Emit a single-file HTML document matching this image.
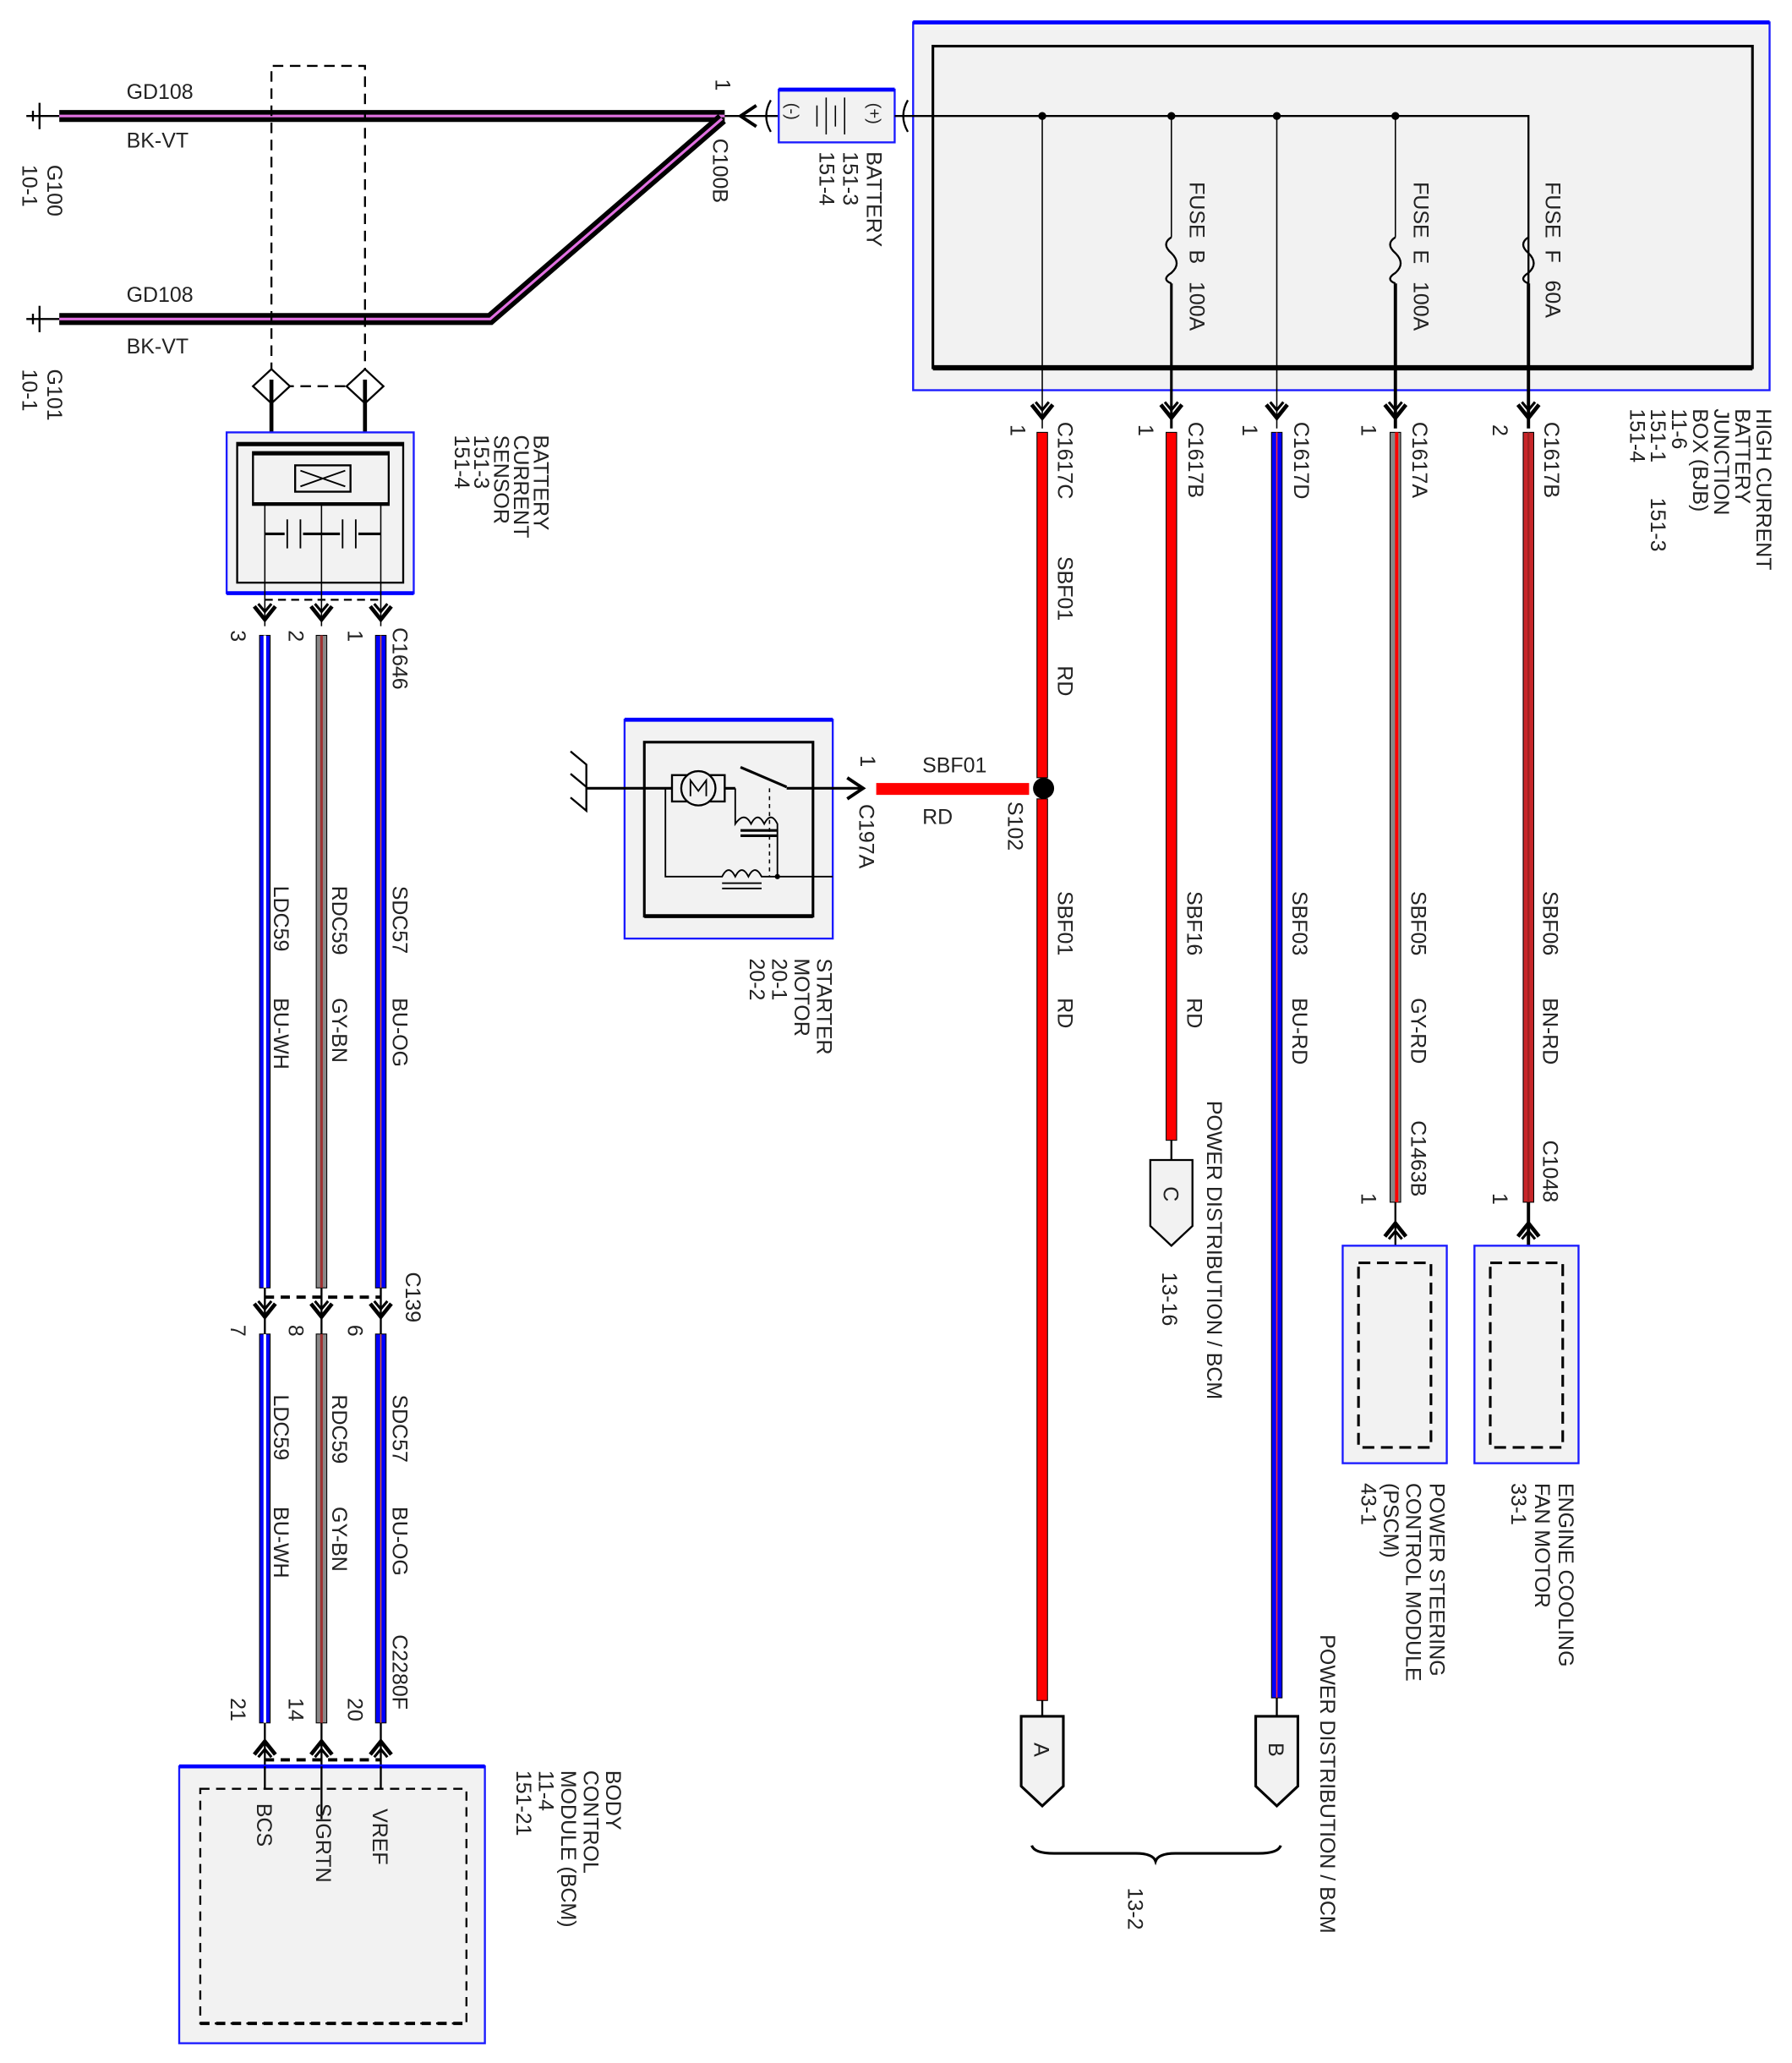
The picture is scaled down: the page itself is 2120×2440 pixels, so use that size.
<!DOCTYPE html>
<html><head><meta charset="utf-8"><style>
html,body{margin:0;padding:0;background:#fff;}
svg{display:block}
text{font-family:"Liberation Sans",sans-serif;font-size:16px;fill:#222;white-space:pre;}
</style></head><body>
<svg width="2120" height="2440" viewBox="0 0 1360 1565" preserveAspectRatio="none" xmlns="http://www.w3.org/2000/svg" xml:space="preserve">
<defs>
<g id="dn"><path d="M-8,-8 L0,2 L8,-8" fill="none" stroke="#000" stroke-width="3"/><path d="M-5,-10 L0,-4 L5,-10" fill="none" stroke="#000" stroke-width="2"/></g>
<g id="up"><path d="M-8,8 L0,-2 L8,8" fill="none" stroke="#000" stroke-width="3"/><path d="M-5,10 L0,4 L5,10" fill="none" stroke="#000" stroke-width="2"/></g>
</defs>

<g>
<line x1="20" y1="88" x2="45" y2="88" stroke="#000" stroke-width="1.5"/>
<line x1="30" y1="78" x2="30" y2="98" stroke="#000" stroke-width="1.5"/>
<line x1="25" y1="84" x2="25" y2="92" stroke="#000" stroke-width="1.5"/>
<line x1="20" y1="242" x2="45" y2="242" stroke="#000" stroke-width="1.5"/>
<line x1="30" y1="232" x2="30" y2="252" stroke="#000" stroke-width="1.5"/>
<line x1="25" y1="238" x2="25" y2="246" stroke="#000" stroke-width="1.5"/>
<path d="M45,88 L550,88" stroke="#000" stroke-width="9" fill="none"/>
<path d="M45,88 L550,88" stroke="#e070e0" stroke-width="2" fill="none"/>
<path d="M548,90 L372,242 L45,242" stroke="#000" stroke-width="9" fill="none" stroke-linejoin="miter"/>
<path d="M548,90 L372,242 L45,242" stroke="#e070e0" stroke-width="2" fill="none"/>
<text x="96" y="75">GD108</text><text x="96" y="112">BK-VT</text>
<text x="96" y="229">GD108</text><text x="96" y="268">BK-VT</text>
<text transform="translate(36,125) rotate(90)">G100</text>
<text transform="translate(17,125) rotate(90)">10-1</text>
<text transform="translate(36,280) rotate(90)">G101</text>
<text transform="translate(17,280) rotate(90)">10-1</text>
</g>

<path d="M206,283 L206,50 L277,50 L277,283" fill="none" stroke="#000" stroke-width="1.5" stroke-dasharray="8,5"/>
<line x1="215" y1="293" x2="268" y2="293" stroke="#000" stroke-width="1.5" stroke-dasharray="8,5"/>
<path d="M206,280 L220,293 L206,306 L192,293 Z" fill="#fff" stroke="#000" stroke-width="1.5"/>
<path d="M277,280 L291,293 L277,306 L263,293 Z" fill="#fff" stroke="#000" stroke-width="1.5"/>
<line x1="206" y1="288" x2="206" y2="330" stroke="#000" stroke-width="3"/>
<line x1="277" y1="288" x2="277" y2="330" stroke="#000" stroke-width="3"/>

<text transform="translate(543,60) rotate(90)">1</text>
<text transform="translate(541,105) rotate(90)">C100B</text>
<path d="M574,80 L562,88 L574,96" fill="none" stroke="#000" stroke-width="2.5"/>
<line x1="550" y1="88" x2="591" y2="88" stroke="#000" stroke-width="1.5"/>
<path d="M585,76 Q578,88 585,100" fill="none" stroke="#000" stroke-width="1.5"/>
<path d="M689,76 Q682,88 689,100" fill="none" stroke="#000" stroke-width="1.5"/>
<rect x="591" y="68" width="88" height="40" fill="#f2f2f2" stroke="#1a1aff" stroke-width="1.5"/>
<line x1="591" y1="68" x2="679" y2="68" stroke="#0000ff" stroke-width="3"/>
<line x1="620" y1="80" x2="620" y2="96" stroke="#000" stroke-width="1"/>
<line x1="627" y1="74" x2="627" y2="102" stroke="#000" stroke-width="1"/>
<line x1="634" y1="80" x2="634" y2="96" stroke="#000" stroke-width="1"/>
<line x1="641" y1="74" x2="641" y2="102" stroke="#000" stroke-width="1"/>
<text transform="translate(597,78) rotate(90)" style="font-size:13px">(-)</text>
<text transform="translate(659,78) rotate(90)" style="font-size:13px">(+)</text>
<text transform="translate(658,115) rotate(90)">BATTERY</text>
<text transform="translate(640,115) rotate(90)">151-3</text>
<text transform="translate(622,115) rotate(90)">151-4</text>

<rect x="693" y="17" width="650" height="279" fill="#f2f2f2" stroke="#1a1aff" stroke-width="1.5"/>
<line x1="693" y1="17" x2="1343" y2="17" stroke="#0000ff" stroke-width="3"/>
<rect x="708" y="35" width="622" height="244" fill="none" stroke="#000" stroke-width="2"/>
<line x1="708" y1="279" x2="1330" y2="279" stroke="#000" stroke-width="4"/>
<path d="M679,88 L1160,88 L1160,305" fill="none" stroke="#000" stroke-width="1.5"/>
<g stroke="#000" fill="none">
<line x1="791" y1="88" x2="791" y2="325" stroke-width="1"/>
<line x1="889" y1="88" x2="889" y2="180" stroke-width="1"/>
<path d="M889,180 Q881,185 889,192 Q897,200 889,207 Q881,212 889,215" stroke-width="1.5"/>
<line x1="889" y1="215" x2="889" y2="325" stroke-width="2"/>
<line x1="969" y1="88" x2="969" y2="325" stroke-width="1"/>
<line x1="1059" y1="88" x2="1059" y2="180" stroke-width="1"/>
<path d="M1059,180 Q1051,185 1059,192 Q1067,200 1059,207 Q1051,212 1059,215" stroke-width="1.5"/>
<line x1="1059" y1="215" x2="1059" y2="325" stroke-width="2.5"/>
<path d="M1160,180 Q1152,185 1160,192 Q1168,200 1160,207 Q1152,212 1160,215" stroke-width="1.5"/>
<line x1="1160" y1="215" x2="1160" y2="325" stroke-width="2.5"/>
</g>
<g fill="#000"><circle cx="791" cy="88" r="3"/><circle cx="889" cy="88" r="3"/><circle cx="969" cy="88" r="3"/><circle cx="1059" cy="88" r="3"/></g>
<text transform="translate(903,138) rotate(90)">FUSE  B   100A</text>
<text transform="translate(1073,138) rotate(90)">FUSE  E   100A</text>
<text transform="translate(1173,138) rotate(90)">FUSE  F   60A</text>
<text transform="translate(1333,310) rotate(90)">HIGH CURRENT</text>
<text transform="translate(1317,310) rotate(90)">BATTERY</text>
<text transform="translate(1301,310) rotate(90)">JUNCTION</text>
<text transform="translate(1285,310) rotate(90)">BOX (BJB)</text>
<text transform="translate(1269,310) rotate(90)">11-6</text>
<text transform="translate(1253,310) rotate(90)">151-1      151-3</text>
<text transform="translate(1237,310) rotate(90)">151-4</text>

<use href="#dn" x="791" y="315"/><use href="#dn" x="889" y="315"/><use href="#dn" x="969" y="315"/><use href="#dn" x="1059" y="315"/><use href="#dn" x="1160" y="315"/>

<rect x="787" y="328" width="8" height="262" fill="#ff0000" stroke="#000" stroke-width="0.7"/>
<rect x="787" y="606" width="8" height="684" fill="#ff0000" stroke="#000" stroke-width="0.7"/>
<rect x="885" y="328" width="8" height="537" fill="#ff0000" stroke="#000" stroke-width="0.7"/>
<rect x="965" y="328" width="8" height="960" fill="#0000ff" stroke="#000" stroke-width="0.7"/>
<line x1="969" y1="328" x2="969" y2="1288" stroke="#ff3030" stroke-width="1"/>
<rect x="1055" y="328" width="8" height="584" fill="#888" stroke="#000" stroke-width="0.7"/>
<line x1="1060" y1="328" x2="1060" y2="912" stroke="#ff0000" stroke-width="2.5"/>
<rect x="1156" y="328" width="8" height="584" fill="#c8262a" stroke="#000" stroke-width="0.7"/>
<line x1="1160" y1="328" x2="1160" y2="912" stroke="#a02020" stroke-width="1.5"/>

<text transform="translate(803,320) rotate(90)">C1617C</text><text transform="translate(767,322) rotate(90)">1</text>
<text transform="translate(902,320) rotate(90)">C1617B</text><text transform="translate(864,322) rotate(90)">1</text>
<text transform="translate(982,320) rotate(90)">C1617D</text><text transform="translate(943,322) rotate(90)">1</text>
<text transform="translate(1072,320) rotate(90)">C1617A</text><text transform="translate(1033,322) rotate(90)">1</text>
<text transform="translate(1172,320) rotate(90)">C1617B</text><text transform="translate(1133,322) rotate(90)">2</text>
<text transform="translate(803,422) rotate(90)">SBF01</text><text transform="translate(803,505) rotate(90)">RD</text>
<text transform="translate(803,676) rotate(90)">SBF01</text><text transform="translate(803,757) rotate(90)">RD</text>
<text transform="translate(901,676) rotate(90)">SBF16</text><text transform="translate(901,757) rotate(90)">RD</text>
<text transform="translate(981,676) rotate(90)">SBF03</text><text transform="translate(981,757) rotate(90)">BU-RD</text>
<text transform="translate(1071,676) rotate(90)">SBF05</text><text transform="translate(1071,757) rotate(90)">GY-RD</text>
<text transform="translate(1171,676) rotate(90)">SBF06</text><text transform="translate(1171,757) rotate(90)">BN-RD</text>

<line x1="889" y1="865" x2="889" y2="880" stroke="#000" stroke-width="1.5"/>
<path d="M873,880 L905,880 L905,930 L889,945 L873,930 Z" fill="#f2f2f2" stroke="#000" stroke-width="1.5"/>
<text transform="translate(883,900) rotate(90)">C</text>
<text transform="translate(916,835) rotate(90)">POWER DISTRIBUTION / BCM</text>
<text transform="translate(882,965) rotate(90)">13-16</text>

<text transform="translate(1071,850) rotate(90)">C1463B</text><text transform="translate(1033,905) rotate(90)">1</text>
<text transform="translate(1171,865) rotate(90)">C1048</text><text transform="translate(1133,905) rotate(90)">1</text>
<line x1="1059" y1="912" x2="1059" y2="958" stroke="#000" stroke-width="1.5"/>
<line x1="1160" y1="912" x2="1160" y2="958" stroke="#000" stroke-width="2.5"/>
<use href="#up" x="1059" y="930"/><use href="#up" x="1160" y="930"/>
<rect x="1019" y="945" width="79" height="165" fill="#f2f2f2" stroke="#1a1aff" stroke-width="1.5"/>
<rect x="1031" y="958" width="55" height="140" fill="none" stroke="#000" stroke-width="2" stroke-dasharray="9,5"/>
<rect x="1119" y="945" width="79" height="165" fill="#f2f2f2" stroke="#1a1aff" stroke-width="1.5"/>
<rect x="1131" y="958" width="55" height="140" fill="none" stroke="#000" stroke-width="2" stroke-dasharray="9,5"/>
<text transform="translate(1085,1125) rotate(90)">POWER STEERING</text>
<text transform="translate(1067,1125) rotate(90)">CONTROL MODULE</text>
<text transform="translate(1050,1125) rotate(90)">(PSCM)</text>
<text transform="translate(1033,1125) rotate(90)">43-1</text>
<text transform="translate(1183,1125) rotate(90)">ENGINE COOLING</text>
<text transform="translate(1165,1125) rotate(90)">FAN MOTOR</text>
<text transform="translate(1147,1125) rotate(90)">33-1</text>

<line x1="791" y1="1290" x2="791" y2="1302" stroke="#000" stroke-width="1.5"/>
<line x1="969" y1="1288" x2="969" y2="1302" stroke="#000" stroke-width="1.5"/>
<path d="M775,1302 L807,1302 L807,1355 L791,1370 L775,1355 Z" fill="#f2f2f2" stroke="#000" stroke-width="2"/>
<path d="M953,1302 L985,1302 L985,1355 L969,1370 L953,1355 Z" fill="#f2f2f2" stroke="#000" stroke-width="2"/>
<text transform="translate(785,1322) rotate(90)">A</text>
<text transform="translate(963,1322) rotate(90)">B</text>
<path d="M783,1400 Q785,1406 800,1406 L862,1406 Q875,1406 877,1412 Q879,1406 892,1406 L955,1406 Q970,1406 972,1400" fill="none" stroke="#000" stroke-width="2"/>
<text transform="translate(856,1432) rotate(90)">13-2</text>
<text transform="translate(1002,1240) rotate(90)">POWER DISTRIBUTION / BCM</text>

<path d="M433,570 L445,580 L445,615 L433,605" fill="none" stroke="#000" stroke-width="1.5"/>
<path d="M433,587 L445,597" stroke="#000" stroke-width="1.5"/>
<rect x="474" y="546" width="158" height="166" fill="#f2f2f2" stroke="#1a1aff" stroke-width="1.5"/>
<line x1="474" y1="546" x2="632" y2="546" stroke="#0000ff" stroke-width="3"/>
<rect x="489" y="563" width="128" height="132" fill="none" stroke="#000" stroke-width="2"/>
<line x1="489" y1="695" x2="617" y2="695" stroke="#000" stroke-width="3"/>
<line x1="445" y1="598" x2="510" y2="598" stroke="#000" stroke-width="2"/>
<rect x="510" y="588" width="40" height="20" fill="none" stroke="#000" stroke-width="1.5"/>
<circle cx="530" cy="598" r="13" fill="#f2f2f2" stroke="#000" stroke-width="1.5"/>
<path d="M524,604 L524,592 L530,600 L536,592 L536,604" fill="none" stroke="#000" stroke-width="1.2"/>
<line x1="550" y1="598" x2="558" y2="598" stroke="#000" stroke-width="2"/>
<path d="M562,582 L597,597" stroke="#000" stroke-width="2"/>
<line x1="597" y1="598" x2="655" y2="598" stroke="#000" stroke-width="2"/>
<line x1="584" y1="598" x2="584" y2="665" stroke="#000" stroke-width="1" stroke-dasharray="3,3"/>
<path d="M558,598 L558,625 Q565,615 570,625 Q575,615 580,625 Q585,615 590,625 L590,665" fill="none" stroke="#000" stroke-width="1.2"/>
<line x1="562" y1="630" x2="590" y2="630" stroke="#000" stroke-width="2"/>
<line x1="562" y1="634" x2="590" y2="634" stroke="#000" stroke-width="2"/>
<path d="M505,598 L505,665 L548,665 Q553,655 558,665 Q563,655 568,665 Q573,655 578,665 L632,665" fill="none" stroke="#000" stroke-width="1.2"/>
<line x1="548" y1="670" x2="578" y2="670" stroke="#000" stroke-width="1.2"/>
<line x1="548" y1="674" x2="578" y2="674" stroke="#000" stroke-width="1.2"/>
<circle cx="590" cy="665" r="2" fill="#000"/>
<path d="M643,590 L655,598 L643,606" fill="none" stroke="#000" stroke-width="2.5"/>
<rect x="665" y="594" width="116" height="9" fill="#ff0000"/>
<circle cx="792" cy="598" r="8" fill="#000"/>
<text x="700" y="586">SBF01</text><text x="700" y="625">RD</text>
<text transform="translate(653,573) rotate(90)">1</text>
<text transform="translate(652,610) rotate(90)">C197A</text>
<text transform="translate(765,608) rotate(90)">S102</text>
<text transform="translate(620,727) rotate(90)">STARTER</text>
<text transform="translate(603,727) rotate(90)">MOTOR</text>
<text transform="translate(586,727) rotate(90)">20-1</text>
<text transform="translate(569,727) rotate(90)">20-2</text>

<rect x="172" y="328" width="142" height="122" fill="#f2f2f2" stroke="#1a1aff" stroke-width="1.5"/>
<line x1="172" y1="450" x2="314" y2="450" stroke="#0000ff" stroke-width="3"/>
<rect x="180" y="336" width="126" height="106" fill="none" stroke="#000" stroke-width="1.5"/>
<line x1="180" y1="337" x2="306" y2="337" stroke="#000" stroke-width="3"/>
<rect x="192" y="343" width="103" height="40" fill="none" stroke="#000" stroke-width="1.5"/>
<line x1="192" y1="344" x2="295" y2="344" stroke="#000" stroke-width="3"/>
<line x1="192" y1="382" x2="295" y2="382" stroke="#000" stroke-width="2"/>
<rect x="224" y="353" width="42" height="20" fill="none" stroke="#000" stroke-width="1.5"/>
<path d="M228,357 L262,369 M228,369 L262,357" stroke="#000" stroke-width="1.2"/>
<line x1="201" y1="383" x2="201" y2="475" stroke="#000" stroke-width="1"/>
<line x1="244" y1="383" x2="244" y2="475" stroke="#000" stroke-width="1"/>
<line x1="289" y1="383" x2="289" y2="475" stroke="#000" stroke-width="1"/>
<line x1="201" y1="405" x2="289" y2="405" stroke="#000" stroke-width="2"/>
<rect x="216" y="394" width="14" height="22" fill="#f2f2f2"/><line x1="218" y1="394" x2="218" y2="416" stroke="#000" stroke-width="1.2"/><line x1="228" y1="394" x2="228" y2="416" stroke="#000" stroke-width="1.2"/>
<rect x="258" y="394" width="14" height="22" fill="#f2f2f2"/><line x1="260" y1="394" x2="260" y2="416" stroke="#000" stroke-width="1.2"/><line x1="270" y1="394" x2="270" y2="416" stroke="#000" stroke-width="1.2"/>
<line x1="201" y1="455" x2="289" y2="455" stroke="#000" stroke-width="1.5" stroke-dasharray="6,4"/>
<text transform="translate(405,330) rotate(90)">BATTERY</text>
<text transform="translate(390,330) rotate(90)">CURRENT</text>
<text transform="translate(375,330) rotate(90)">SENSOR</text>
<text transform="translate(360,330) rotate(90)">151-3</text>
<text transform="translate(345,330) rotate(90)">151-4</text>
<use href="#dn" x="201" y="468"/><use href="#dn" x="244" y="468"/><use href="#dn" x="289" y="468"/>

<g stroke="#000" stroke-width="0.7">
<rect x="197" y="482" width="8" height="495" fill="#0000ff"/>
<rect x="240" y="482" width="8" height="495" fill="#888"/>
<rect x="285" y="482" width="8" height="495" fill="#0000ff"/>
<rect x="197" y="1012" width="8" height="295" fill="#0000ff"/>
<rect x="240" y="1012" width="8" height="295" fill="#888"/>
<rect x="285" y="1012" width="8" height="295" fill="#0000ff"/>
</g>
<g stroke-width="2">
<line x1="201" y1="482" x2="201" y2="977" stroke="#fff"/>
<line x1="244" y1="482" x2="244" y2="977" stroke="#a03030"/>
<line x1="289" y1="482" x2="289" y2="977" stroke="#d06030" stroke-width="1"/>
<line x1="201" y1="1012" x2="201" y2="1307" stroke="#fff"/>
<line x1="244" y1="1012" x2="244" y2="1307" stroke="#a03030"/>
<line x1="289" y1="1012" x2="289" y2="1307" stroke="#d06030" stroke-width="1"/>
</g>
<g stroke="#000" stroke-width="1.5">
<line x1="201" y1="977" x2="201" y2="1012"/><line x1="244" y1="977" x2="244" y2="1012"/><line x1="289" y1="977" x2="289" y2="1012"/>
<line x1="201" y1="1307" x2="201" y2="1355"/><line x1="244" y1="1307" x2="244" y2="1388"/><line x1="289" y1="1307" x2="289" y2="1355"/>
</g>
<line x1="201" y1="984" x2="289" y2="984" stroke="#000" stroke-width="2.5" stroke-dasharray="7,5"/>
<use href="#dn" x="201" y="997"/><use href="#dn" x="244" y="997"/><use href="#dn" x="289" y="997"/>
<use href="#up" x="201" y="1323"/><use href="#up" x="244" y="1323"/><use href="#up" x="289" y="1323"/>
<line x1="201" y1="1335" x2="289" y2="1335" stroke="#000" stroke-width="2.5" stroke-dasharray="7,5"/>

<text transform="translate(298,476) rotate(90)">C1646</text>
<text transform="translate(175,478) rotate(90)">3</text><text transform="translate(219,478) rotate(90)">2</text><text transform="translate(264,478) rotate(90)">1</text>
<text transform="translate(208,672) rotate(90)">LDC59</text><text transform="translate(208,757) rotate(90)">BU-WH</text>
<text transform="translate(252,672) rotate(90)">RDC59</text><text transform="translate(252,757) rotate(90)">GY-BN</text>
<text transform="translate(298,672) rotate(90)">SDC57</text><text transform="translate(298,757) rotate(90)">BU-OG</text>
<text transform="translate(308,965) rotate(90)">C139</text>
<text transform="translate(175,1005) rotate(90)">7</text><text transform="translate(219,1005) rotate(90)">8</text><text transform="translate(264,1005) rotate(90)">6</text>
<text transform="translate(208,1058) rotate(90)">LDC59</text><text transform="translate(208,1143) rotate(90)">BU-WH</text>
<text transform="translate(252,1058) rotate(90)">RDC59</text><text transform="translate(252,1143) rotate(90)">GY-BN</text>
<text transform="translate(298,1058) rotate(90)">SDC57</text><text transform="translate(298,1143) rotate(90)">BU-OG</text>
<text transform="translate(298,1240) rotate(90)">C2280F</text>
<text transform="translate(175,1288) rotate(90)">21</text><text transform="translate(219,1288) rotate(90)">14</text><text transform="translate(264,1288) rotate(90)">20</text>

<rect x="136" y="1340" width="232" height="210" fill="#f2f2f2" stroke="#1a1aff" stroke-width="1.5"/>
<line x1="136" y1="1340" x2="368" y2="1340" stroke="#0000ff" stroke-width="3"/>
<rect x="152" y="1357" width="202" height="178" fill="none" stroke="#000" stroke-width="1.5" stroke-dasharray="7,5"/>
<line x1="152" y1="1535" x2="354" y2="1535" stroke="#000" stroke-width="2.5" stroke-dasharray="7,5"/>
<line x1="201" y1="1340" x2="201" y2="1357" stroke="#000" stroke-width="1.5"/>
<line x1="244" y1="1340" x2="244" y2="1380" stroke="#000" stroke-width="1.5"/>
<line x1="289" y1="1340" x2="289" y2="1357" stroke="#000" stroke-width="1.5"/>
<text transform="translate(195,1368) rotate(90)">BCS</text>
<text transform="translate(240,1368) rotate(90)">SIGRTN</text>
<text transform="translate(283,1372) rotate(90)">VREF</text>
<text transform="translate(460,1343) rotate(90)">BODY</text>
<text transform="translate(443,1343) rotate(90)">CONTROL</text>
<text transform="translate(426,1343) rotate(90)">MODULE (BCM)</text>
<text transform="translate(409,1343) rotate(90)">11-4</text>
<text transform="translate(392,1343) rotate(90)">151-21</text>
</svg>
</body></html>
